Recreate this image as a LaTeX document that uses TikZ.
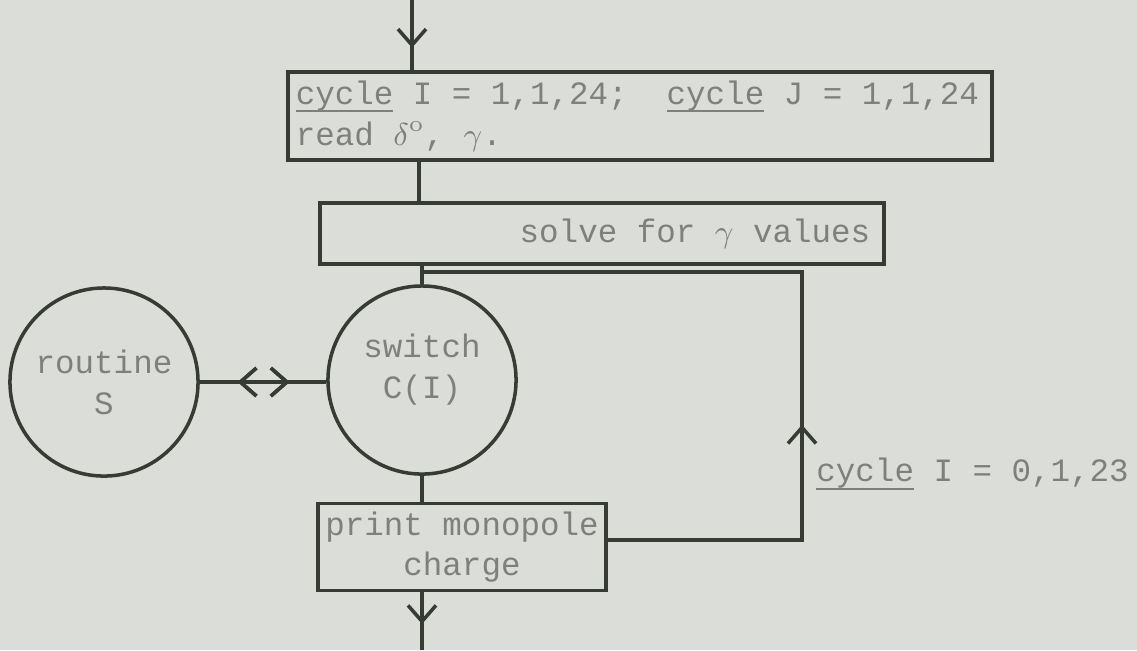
\documentclass[tikz,border=0pt]{standalone}
\usepackage{fontspec}
\setmonofont{Liberation Mono}
\usetikzlibrary{arrows.meta,decorations.markings}
\definecolor{paper}{HTML}{DADDD8}
\definecolor{ink}{HTML}{363B34}
\definecolor{type}{HTML}{7E807C}
\newcommand\uln[1]{\setbox0\hbox{#1}\rlap{\rule[-2.2pt]{\wd0}{0.5pt}}\box0\relax}
\newcommand\fixsp{\spaceskip=\fontdimen2\font\xspaceskip=\fontdimen2\font\relax}
\tikzset{
  x=0.01cm, y=-0.01cm,
  every node/.style={font=\ttfamily\fontsize{9.25}{11.6}\selectfont, text=type},
  line/.style={draw=ink, line width=1pt},
  box/.style={line, rectangle, inner ysep=0pt},
  disc/.style={line, circle, minimum size=1.88cm, inner sep=0pt, align=center},
  midarrow/.style={postaction={decorate},decoration={markings,mark=at position #1 with {\arrow{Straight Barb[length=1.6mm,width=2.8mm,line width=1pt]}}}},
  midback/.style={postaction={decorate},decoration={markings,mark=at position #1 with {\arrowreversed{Straight Barb[length=1.6mm,width=2.8mm,line width=1pt]}}}},
}
\begin{document}
\begin{tikzpicture}
\fill[paper] (0,0) rectangle (1137,650);
\useasboundingbox (0,0) rectangle (1137,650);

\node[box, minimum height=0.88cm, inner xsep=0.08cm, text width=6.88cm, align=left] (cyc) at (640,116)
  {\fixsp\uln{cycle} I = 1,1,24;\ \ \uln{cycle} J = 1,1,24\\\fixsp read $\delta^{\mathrm{o}}$, $\gamma$.};
\node[box, minimum height=0.61cm, inner xsep=0.14cm, text width=5.36cm, align=right] (solve) at (602,233.5)
  {\fixsp solve for $\gamma$ values};
\node[disc] (sw) at (422,380)
  {\raisebox{0.1cm}[\height][\depth]{\begin{tabular}{@{}c@{}}switch\\C(I)\end{tabular}}};
\node[disc] (rt) at (104,382) {routine\\S};
\node[box, minimum height=0.87cm, inner xsep=0.02cm, text width=2.84cm, align=center] (pr) at (462,547)
  {\fixsp print monopole\\charge};
\node[anchor=west] (lbl) at (804,474) {\uln{cycle} I = 0,1,23};

\coordinate (top) at (412,0);
\coordinate (bot) at (422,650);
\coordinate (j) at (421,272);
\coordinate (c1) at (802,272);
\coordinate (c2) at (802,540);

\draw[line, midarrow=0.68] (top) -- (top |- cyc.north);
\draw[line] (cyc.south -| 419,0) -- (solve.north -| 419,0);
\draw[line] (solve.south -| sw.north) -- (sw.north);
\draw[line] (j) -- (c1) -- (c2) -- (c2 -| pr.east);
\draw[line, midarrow=0.43] (c2) -- (c1);
\draw[line, midback=0.30, midarrow=0.71] (rt.east) -- (rt.east -| sw.west);
\draw[line] (sw.south) -- (pr.north -| sw.south);
\draw[line, midarrow=0.55] (pr.south -| bot) -- (bot);
\end{tikzpicture}
\end{document}
